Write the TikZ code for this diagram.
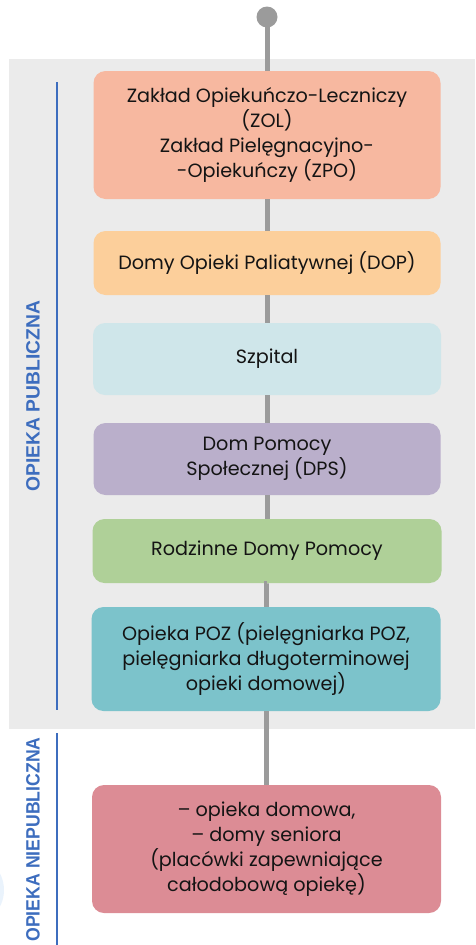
\documentclass[tikz,border=0pt]{standalone}
\usepackage{fontspec}
\usepackage{graphicx}
\setmainfont{Poppins}
\newfontfamily\labelfont{Liberation Sans}
\definecolor{bgGray}{HTML}{EBEBEB}
\definecolor{lineGray}{HTML}{9B9B9B}
\definecolor{sideBlue}{HTML}{3D6DBE}
\definecolor{cZOL}{HTML}{F7B8A0}
\definecolor{cDOP}{HTML}{FCCF9B}
\definecolor{cSzp}{HTML}{CFE6EA}
\definecolor{cDPS}{HTML}{BAAFCB}
\definecolor{cRDP}{HTML}{AFD098}
\definecolor{cPOZ}{HTML}{7CC3CB}
\definecolor{cNP}{HTML}{DC8C95}
\definecolor{faintBlue}{HTML}{EAF3FC}
\begin{document}
\begin{tikzpicture}[x=1pt,y=-1pt,
  box/.style={rounded corners=12pt, inner sep=0pt, align=center,
    font=\fontsize{19.2}{25}\selectfont, text=black!92},
  sidelabel/.style={rotate=90, inner sep=0pt, text=sideBlue, font=\labelfont\bfseries\fontsize{19.3}{22}\selectfont},
  spine/.style={draw=lineGray, line width=5pt}]
\useasboundingbox (0,0) rectangle (475,945);
\fill[bgGray] (9,59) rectangle (475,729);
\fill[faintBlue] (-32,890) circle (36);
\draw[sideBlue, line width=1.6pt] (57,82) -- (57,710);
\draw[sideBlue, line width=1.6pt] (57,733) -- (57,945);
\node[sidelabel] (lpub) at (33,396) {OPIEKA PUBLICZNA};
\node[sidelabel] (lnp) at (33,839.5) {\scalebox{0.915}[1]{OPIEKA NIEPUBLICZNA}};
\node[circle, fill=lineGray, minimum size=21pt, inner sep=0pt] (dot) at (267,17) {};
\node[box, fill=cZOL, minimum width=347pt, minimum height=128pt] (zol) at (267,135)
  {Zakład Opiekuńczo-Leczniczy\\(ZOL)\\Zakład Pielęgnacyjno-\\-Opiekuńczy (ZPO)};
\node[box, fill=cDOP, minimum width=347pt, minimum height=64pt] (dop) at (267,263)
  {Domy Opieki Paliatywnej (DOP)};
\node[box, fill=cSzp, minimum width=348pt, minimum height=72pt] (szp) at (267,359)
  {Szpital};
\node[box, fill=cDPS, minimum width=347pt, minimum height=72pt] (dps) at (267,459)
  {Dom Pomocy\\Społecznej (DPS)};
\node[box, fill=cRDP, minimum width=349pt, minimum height=64pt] (rdp) at (267,551)
  {Rodzinne Domy Pomocy};
\node[box, fill=cPOZ, minimum width=349pt, minimum height=104pt] (poz) at (266,659)
  {Opieka POZ (pielęgniarka POZ,\\pielęgniarka długoterminowej\\opieki domowej)};
\node[box, fill=cNP, minimum width=349pt, minimum height=128pt] (np) at (266.5,849)
  {– opieka domowa,\\– domy seniora\\(placówki zapewniające\\całodobową opiekę)};
\draw[spine] (dot.center) -- (zol.north);
\draw[spine] (zol.south) -- (dop.north);
\draw[spine] (dop.south) -- (szp.north);
\draw[spine] (szp.south) -- (dps.north);
\draw[spine] (dps.south) -- (rdp.north);
\draw[spine] (rdp.south) -- (poz.south |- rdp.south) -- (poz.north);
\draw[spine] (poz.south) -- (poz.south |- np.north);
\end{tikzpicture}
\end{document}
